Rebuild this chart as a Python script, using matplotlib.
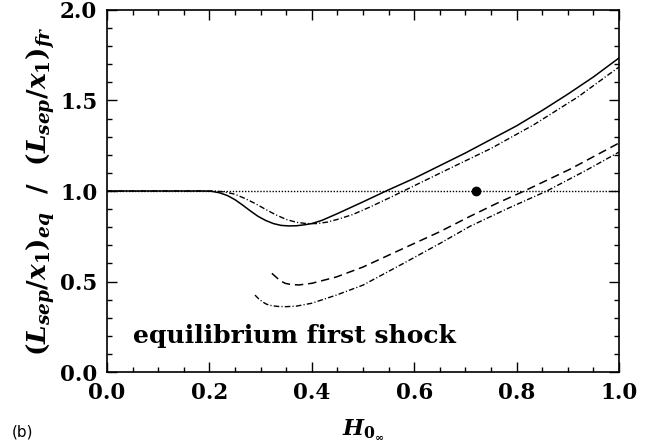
import numpy as np
import matplotlib
matplotlib.use("Agg")
import matplotlib.pyplot as plt
from matplotlib.ticker import MultipleLocator

plt.rcParams['mathtext.fontset'] = 'custom'
plt.rcParams['mathtext.it'] = 'DejaVu Serif:italic:bold'
plt.rcParams['mathtext.rm'] = 'DejaVu Serif:bold'
plt.rcParams['mathtext.bf'] = 'DejaVu Serif:bold'

# H_0inf vs ratio of separation lengths, equilibrium / frozen
h_solid = [0.0, 0.19, 0.205, 0.22, 0.235, 0.25, 0.265, 0.28, 0.295, 0.31,
           0.325, 0.34, 0.355, 0.37, 0.385, 0.40, 0.42, 0.45, 0.50, 0.545,
           0.60, 0.65, 0.70, 0.75, 0.80, 0.85, 0.90, 0.95, 1.0]
r_solid = [1.0, 1.0, 0.998, 0.99, 0.975, 0.952, 0.922, 0.89, 0.86, 0.837,
           0.82, 0.81, 0.807, 0.808, 0.813, 0.82, 0.838, 0.875, 0.94, 1.0,
           1.07, 1.14, 1.21, 1.285, 1.36, 1.445, 1.535, 1.63, 1.735]

h_dashdot = [0.0, 0.21, 0.23, 0.25, 0.27, 0.29, 0.31, 0.33, 0.35, 0.37,
             0.39, 0.41, 0.43, 0.45, 0.48, 0.514, 0.55, 0.579, 0.663, 0.75,
             0.833, 0.92, 1.0]
r_dashdot = [1.0, 1.0, 0.995, 0.982, 0.958, 0.93, 0.898, 0.868, 0.843, 0.827,
             0.82, 0.82, 0.828, 0.843, 0.87, 0.912, 0.96, 1.0, 1.116, 1.235,
             1.365, 1.52, 1.685]

h_dashed = [0.322, 0.33, 0.338, 0.348, 0.36, 0.375, 0.40, 0.448, 0.50, 0.579,
            0.65, 0.709, 0.76, 0.815, 0.904, 1.0]
r_dashed = [0.545, 0.525, 0.505, 0.49, 0.483, 0.481, 0.49, 0.525, 0.58, 0.683,
            0.775, 0.86, 0.93, 1.0, 1.12, 1.265]

h_dashdot_low = [0.289, 0.296, 0.304, 0.312, 0.322, 0.335, 0.35, 0.37, 0.40,
                 0.448, 0.50, 0.579, 0.65, 0.709, 0.78, 0.859, 0.937, 1.0]
r_dashdot_low = [0.425, 0.405, 0.387, 0.374, 0.366, 0.362, 0.361, 0.364, 0.38,
                 0.425, 0.48, 0.6, 0.71, 0.805, 0.9, 1.0, 1.116, 1.215]

h_ref = [0.0, 1.0]
r_ref = [1.0, 1.0]
h_point = [0.721]
r_point = [1.0]

fig = plt.figure(figsize=(6.52, 4.48), dpi=100)
ax = fig.add_axes([107 / 652, 1 - 372 / 448, 512 / 652, 362 / 448])

dashdot = (0, (4, 1.6, 0.8, 1.6))
ax.plot(h_ref, r_ref, color='black', lw=1.0, ls=(0, (1, 1.2)))
ax.plot(h_solid, r_solid, color='black', lw=1.1, ls='-')
ax.plot(h_dashdot, r_dashdot, color='black', lw=1.0, ls=dashdot)
ax.plot(h_dashed, r_dashed, color='black', lw=1.1, ls=(0, (5.5, 3.2)))
ax.plot(h_dashdot_low, r_dashdot_low, color='black', lw=1.0, ls=dashdot)
ax.plot(h_point, r_point, 'o', color='black', ms=6)

ax.set_xlim(0, 1)
ax.set_ylim(0, 2)
ax.xaxis.set_major_locator(MultipleLocator(0.2))
ax.xaxis.set_minor_locator(MultipleLocator(0.05))
ax.yaxis.set_major_locator(MultipleLocator(0.5))
ax.yaxis.set_minor_locator(MultipleLocator(0.1))
ax.tick_params(which='both', direction='in', top=True, right=True, width=1.0)
ax.tick_params(which='major', length=7, pad=7)
ax.tick_params(which='minor', length=3.5)
for sp in ax.spines.values():
    sp.set_linewidth(1.2)

ax.set_xticklabels([f"{v:.1f}" for v in ax.get_xticks()])
ax.set_yticklabels([f"{v:.1f}" for v in ax.get_yticks()])
for lab in ax.get_xticklabels() + ax.get_yticklabels():
    lab.set_fontfamily('DejaVu Serif')
    lab.set_fontweight('bold')
    lab.set_fontsize(15.5)

ax.set_xlabel(r'$H_{0_\infty}$', fontsize=16, labelpad=10)
ax.set_ylabel(r'$(L_{sep}/x_1)_{eq}\ \ /\ \ (L_{sep}/x_1)_{fr}$',
              fontsize=19, labelpad=2)

ax.text(0.05, 0.2, 'equilibrium first shock', fontfamily='DejaVu Serif',
        fontweight='bold', fontsize=18, ha='left', va='center')

fig.text(12 / 652, 1 - 432 / 448, '(b)', fontsize=11, ha='left', va='center',
         fontfamily='DejaVu Sans')

fig.savefig('out.png', dpi=100)
